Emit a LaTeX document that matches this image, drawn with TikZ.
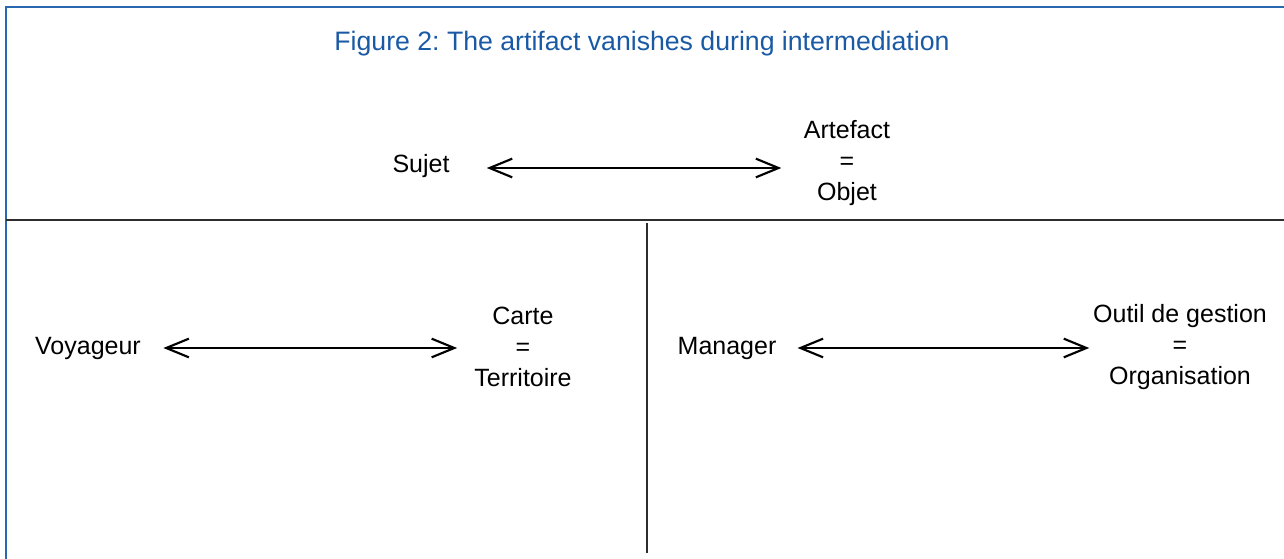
\documentclass[tikz,border=0pt]{standalone}
\usepackage{fontspec}
\setmainfont{Liberation Sans}
\usetikzlibrary{arrows.meta}
\definecolor{figblue}{RGB}{26,90,165}
\definecolor{framblue}{RGB}{40,104,176}
\definecolor{rulegray}{RGB}{45,45,45}
\frenchspacing
\begin{document}
\begin{tikzpicture}[x=0.75pt,y=0.75pt,yscale=-1,xscale=1,
  lbl/.style={inner sep=0.75pt, align=center, font=\fontsize{18.75}{23}\selectfont},
  dblarrow/.style={line width=1.6pt, {Straight Barb[length=17pt,width=14pt]}-{Straight Barb[length=17pt,width=14pt]}},
  rule/.style={color=rulegray, line width=1.8pt}
]
\useasboundingbox (0,0) rectangle (1284,559);

%Frame
\draw [color=framblue, line width=1.6pt] (6,559) -- (6,7) -- (1284,7) ;
%Straight Lines
\draw [rule] (6,220) -- (1284,220) ;
\draw [rule] (647,223) -- (647,553) ;

% Text Node
\node [lbl, color=figblue, font=\fontsize{20}{24}\selectfont] (title) at (642,44) {Figure 2: The artifact vanishes during intermediation};
% Text Node
\node [lbl] (sujet) at (421,166) {Sujet};
% Text Node
\node [lbl] (artefact) at (847,163) {Artefact\\=\\Objet};
% Text Node
\node [lbl] (voyageur) at (88,348) {Voyageur};
% Text Node
\node [lbl] (carte) at (523,347) {Carte\\=\\Territoire};
% Text Node
\node [lbl] (manager) at (727,348) {Manager};
% Text Node
\node [lbl] (outil) at (1180,347) {Outil de gestion\\=\\Organisation};

%Arrows
\draw [dblarrow, shorten <=27pt, shorten >=16pt] ([yshift=1.5pt]sujet.east) -- ([yshift=1.5pt]sujet.east -| artefact.west) ;
\draw [dblarrow, shorten <=16pt, shorten >=12pt] (voyageur.east) -- (voyageur.east -| carte.west) ;
\draw [dblarrow, shorten <=15pt, shorten >=2pt] (manager.east) -- (manager.east -| outil.west) ;

\end{tikzpicture}
\end{document}
